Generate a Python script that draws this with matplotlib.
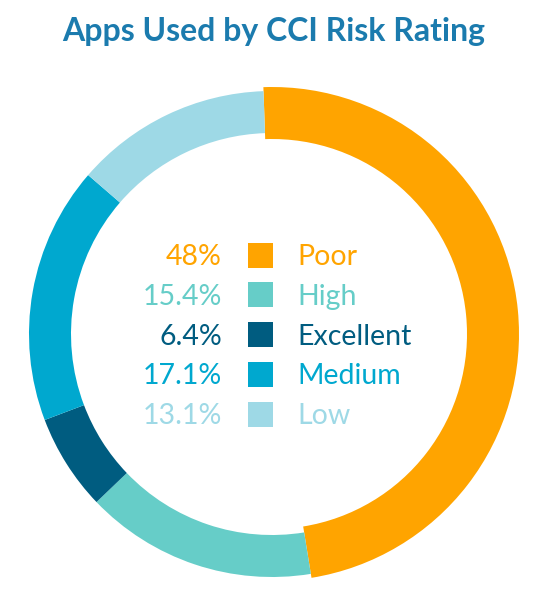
import matplotlib
matplotlib.use("Agg")
import matplotlib.pyplot as plt

title = "Apps Used by CCI Risk Rating"
categories = ["Poor", "High", "Excellent", "Medium", "Low"]
values = [48.0, 15.4, 6.4, 17.1, 13.1]
pct_labels = ["48%", "15.4%", "6.4%", "17.1%", "13.1%"]
colors = ["#FFA400", "#66CDC8", "#005C80", "#00A8CF", "#9ED9E6"]

plt.rcParams['font.family'] = ['Lato', 'DejaVu Sans']

W, H = 549, 592
fig = plt.figure(figsize=(W / 100, H / 100), dpi=100)
ax = fig.add_axes([0, 0, 1, 1])
ax.set_xlim(0, W)
ax.set_ylim(0, H)
ax.axis('off')

cx, cy = 272, H - 334
R, ring = 243, 42
wedges, _ = ax.pie(values, colors=colors, startangle=92, counterclock=False,
                   center=(cx, cy), radius=R,
                   wedgeprops=dict(width=ring, linewidth=0))
# Poor segment drawn slightly thicker
wedges[0].set_radius(R + 4)
wedges[0].set_width(ring + 10)
ax.set_xlim(0, W)
ax.set_ylim(0, H)
ax.set_aspect('equal')

fig.text(274 / W, 1 - 32 / H, title, ha='center', va='center',
         fontsize=23, fontweight='bold', color='#1B7BAE')

row0, step = 255, 39.8
for i, (cat, pct, col) in enumerate(zip(categories, pct_labels, colors)):
    y = H - (row0 + i * step)
    ax.text(222, y - 2, pct, ha='right', va='center', fontsize=20.5, color=col)
    ax.add_patch(plt.Rectangle((248, y - 12.5), 25, 25, color=col, lw=0))
    ax.text(297, y - 2, cat, ha='left', va='center', fontsize=20.5, color=col)

fig.savefig("out.png", dpi=100, facecolor='white')
